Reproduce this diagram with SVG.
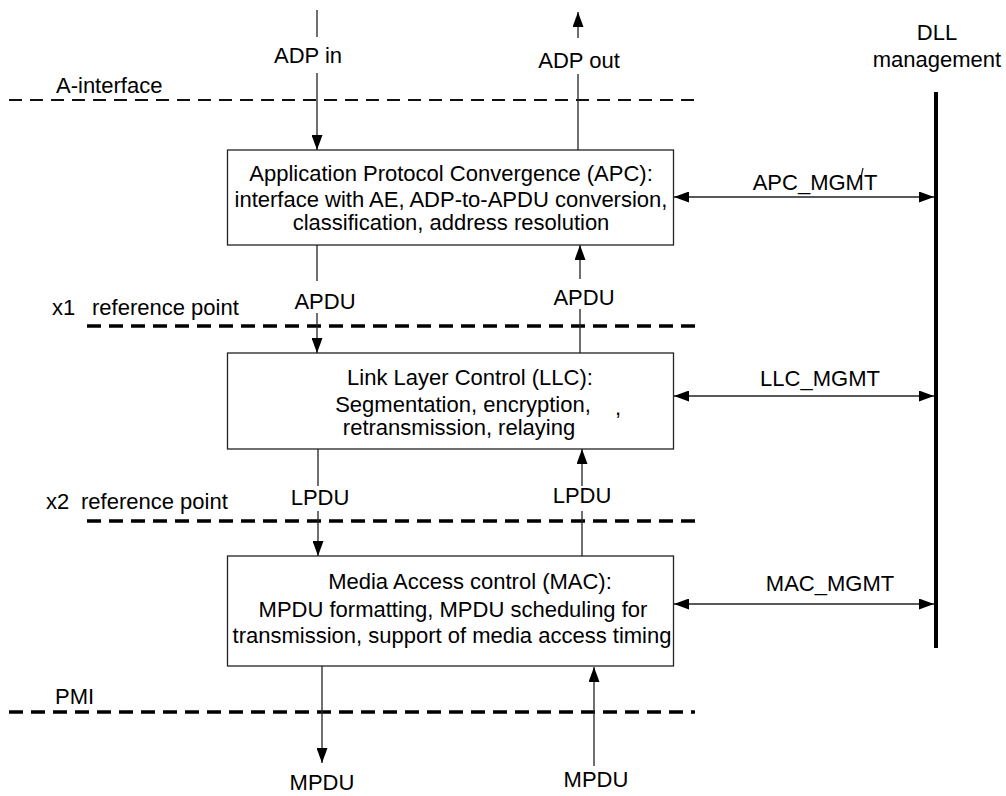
<svg xmlns="http://www.w3.org/2000/svg" width="1006" height="796" viewBox="0 0 1006 796">
<style>
text{font-family:"Liberation Sans",Arial,sans-serif;font-size:22px;fill:#000}
.mid{text-anchor:middle}
.box{fill:#fff;stroke:#222;stroke-width:1.3}
.c{stroke:#222;stroke-width:1.3;fill:none}
.thin{stroke:#111;stroke-width:2;stroke-dasharray:13 8;fill:none}
.thick{stroke:#000;stroke-width:3.5;stroke-dasharray:14 8;fill:none}
.bar{stroke:#000;stroke-width:4;fill:none}
</style>
<defs>
<marker id="ah" markerUnits="userSpaceOnUse" markerWidth="15" markerHeight="11" viewBox="0 0 15 11" refX="15" refY="5.5" orient="auto-start-reverse">
<path d="M0,0 L15,5.5 L0,11 z" fill="#000"/>
</marker>
</defs>
<rect width="1006" height="796" fill="#fff"/>
<g id="reference-lines">
<line class="thin" x1="9" y1="100" x2="695" y2="100"/>
<text x="56" y="93">A-interface</text>
<line class="thick" x1="87" y1="326" x2="695" y2="326"/>
<text y="315"><tspan x="52">x1</tspan><tspan x="92">reference  point</tspan></text>
<line class="thick" x1="87" y1="521" x2="695" y2="521"/>
<text y="509"><tspan x="46">x2</tspan><tspan x="81">reference point</tspan></text>
<line class="thick" x1="9" y1="712" x2="695" y2="712"/>
<text x="55" y="704">PMI</text>
</g>
<g id="dll-management">
<line class="bar" x1="936" y1="92" x2="936" y2="648"/>
<text class="mid" x="937" y="40">DLL</text>
<text class="mid" x="937" y="67">management</text>
</g>
<g id="apc">
<rect class="box" x="227.5" y="150" width="446" height="95"/>
<text class="mid" x="451" y="181">Application Protocol Convergence (APC):</text>
<text class="mid" x="451" y="207">interface with AE, ADP-to-APDU conversion,</text>
<text class="mid" x="451" y="230">classification, address resolution</text>
</g>
<g id="llc">
<rect class="box" x="227.5" y="353" width="446" height="96"/>
<text class="mid" x="470" y="385">Link Layer Control (LLC):</text>
<text class="mid" x="463" y="412">Segmentation, encryption,</text>
<text class="mid" x="459" y="435">retransmission, relaying</text>
<text x="615" y="415">,</text>
</g>
<g id="mac">
<rect class="box" x="227.5" y="556" width="446" height="110"/>
<text class="mid" x="470" y="589">Media Access control (MAC):</text>
<text class="mid" x="453" y="617">MPDU formatting, MPDU scheduling for</text>
<text class="mid" x="452" y="643">transmission, support of media access timing</text>
</g>
<g id="connectors">
<line class="c" x1="317" y1="10" x2="317" y2="37"/>
<line class="c" x1="317" y1="73" x2="317" y2="150" marker-end="url(#ah)"/>
<line class="c" x1="578" y1="38" x2="578" y2="12" marker-end="url(#ah)"/>
<line class="c" x1="578" y1="150" x2="578" y2="74"/>
<line class="c" x1="317" y1="245" x2="317" y2="281"/>
<line class="c" x1="317" y1="313" x2="317" y2="353" marker-end="url(#ah)"/>
<line class="c" x1="580" y1="279" x2="580" y2="245" marker-end="url(#ah)"/>
<line class="c" x1="580" y1="353" x2="580" y2="309"/>
<line class="c" x1="318" y1="449" x2="318" y2="486"/>
<line class="c" x1="318" y1="511" x2="318" y2="556" marker-end="url(#ah)"/>
<line class="c" x1="582" y1="486" x2="582" y2="449" marker-end="url(#ah)"/>
<line class="c" x1="582" y1="556" x2="582" y2="511"/>
<line class="c" x1="322" y1="666" x2="322" y2="763" marker-end="url(#ah)"/>
<line class="c" x1="594" y1="766" x2="594" y2="667" marker-end="url(#ah)"/>
<line class="c" x1="674" y1="197" x2="934" y2="197" marker-start="url(#ah)" marker-end="url(#ah)"/>
<line class="c" x1="674" y1="396" x2="934" y2="396" marker-start="url(#ah)" marker-end="url(#ah)"/>
<line class="c" x1="674" y1="604" x2="934" y2="604" marker-start="url(#ah)" marker-end="url(#ah)"/>
<line class="c" x1="863" y1="168" x2="861" y2="177"/>
</g>
<g id="labels">
<text class="mid" x="308" y="63">ADP in</text>
<text class="mid" x="579" y="68">ADP out</text>
<text class="mid" x="325" y="309">APDU</text>
<text class="mid" x="584" y="305">APDU</text>
<text class="mid" x="320" y="505">LPDU</text>
<text class="mid" x="582" y="503">LPDU</text>
<text class="mid" x="322" y="790">MPDU</text>
<text class="mid" x="596" y="787">MPDU</text>
<text class="mid" x="815" y="190">APC_MGMT</text>
<text class="mid" x="820" y="386">LLC_MGMT</text>
<text class="mid" x="830" y="591">MAC_MGMT</text>
</g>
</svg>
